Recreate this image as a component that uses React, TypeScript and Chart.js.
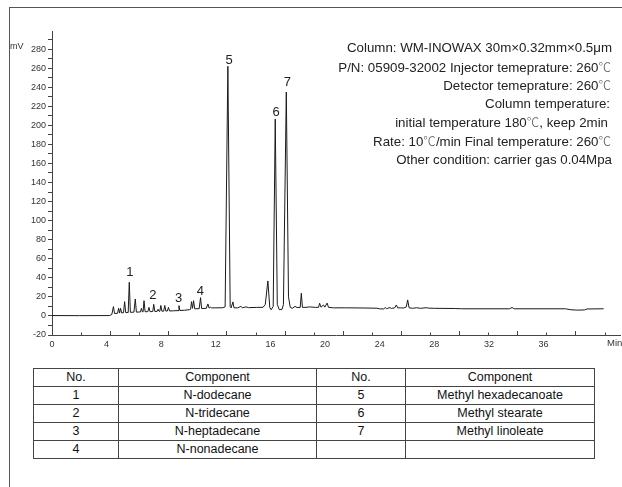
import React, { useEffect, useRef } from 'react';
import { Chart, registerables } from 'chart.js';

Chart.register(...registerables);

// Retention time (min) and detector signal (mV)
const TIME_MIN = [
  0, 2, 4.2, 4.38, 4.5, 4.58, 4.8, 4.88, 4.95, 5.02, 5.1, 5.24, 5.32, 5.4, 5.58, 5.66, 5.74,
  6.0, 6.1, 6.18, 6.48, 6.55, 6.62, 6.67, 6.74, 6.82, 7.02, 7.1, 7.18, 7.38, 7.45, 7.53,
  7.7, 7.77, 7.84, 7.9, 7.97, 8.05, 8.18, 8.26, 8.34, 8.45, 8.53, 8.61, 8.9, 9.23, 9.3, 9.37,
  9.7, 10.05, 10.15, 10.22, 10.29, 10.37, 10.45, 10.78, 10.88, 10.96, 11.3, 11.42, 11.5,
  11.62, 11.7, 12.0, 12.5, 12.68, 12.88, 13.05, 13.12, 13.25, 13.33, 13.6, 13.83, 13.95,
  14.2, 14.4, 15.0, 15.45, 15.62, 15.81, 15.95, 16.05, 16.2, 16.35, 16.5, 16.65, 16.85,
  16.95, 17.16, 17.32, 17.45, 17.6, 17.8, 17.95, 18.18, 18.26, 18.34, 18.6, 18.85, 19.3,
  19.52, 19.6, 19.7, 19.88, 19.98, 20.15, 20.25, 20.6, 21.5, 23.0, 23.8, 24.0, 24.3, 24.4,
  24.5, 24.75, 24.85, 25.1, 25.22, 25.32, 25.5, 25.75, 25.95, 26.05, 26.15, 26.4, 26.7,
  27.0, 27.4, 27.6, 28.0, 29.5, 30.0, 33.5, 33.7, 33.85, 37.6, 38.0, 38.5, 39.0, 39.2, 40.4,
];
const SIGNAL_MV = [
  0.4, 0.3, 0.4, 1.5, 9.8, 2.5, 2.8, 8, 3, 8, 3.2, 3.4, 15, 3.5, 3.6, 35.3, 3.8,
  4, 17.8, 4, 4.2, 8, 4.3, 4.3, 16, 4.4, 4.5, 9, 4.5, 4.6, 12.2, 4.7,
  4.8, 7, 4.9, 5, 11, 5, 5, 11, 5.1, 5.2, 9, 5.2, 5.4, 5.6, 10.8, 5.7,
  6, 6.5, 7, 15, 8, 16, 7.5, 7.6, 19.2, 7.8, 8, 12.6, 8.3,
  9.2, 8.4, 8.5, 8.6, 9.5, 262, 10, 8.5, 14.7, 8.5, 8.5, 10, 8.6,
  9.5, 8.7, 9, 9, 12, 36.7, 9, 6.5, 10, 206.5, 12, 6.5, 7,
  12, 235, 20, 9, 8, 10, 8.8, 9, 23.8, 9, 9, 9.5, 9,
  9, 13.3, 9.2, 11.5, 9.2, 13.5, 9, 8.5, 8.5, 8.3, 8.1, 7.4, 7.4, 8.8,
  7.6, 8.8, 7.9, 8.5, 11.5, 8.5, 8.5, 8.3, 9.5, 16.8, 8.6, 8, 8.6,
  8, 8.6, 8.2, 8, 7.8, 7.5, 7.5, 8.8, 7.5, 7.5, 6.5, 6.1, 6.3, 7.3, 7.5,
];

const X_TICKS = [0, 4, 8, 12, 16, 20, 24, 28, 32, 36];
const Y_TICKS = [-20, -10, 0, 10, 20, 30, 40, 50, 60, 70, 80, 90, 100, 110, 120, 130, 140, 150,
  160, 170, 180, 190, 200, 210, 220, 230, 240, 250, 260, 270, 280, 290];
// Tick marks of the time axis (they do not line up with the labels in the source)
const X_MARKS = [2.13, 4.26, 6.39, 8.52, 10.65, 12.78, 14.91, 17.04, 19.17, 21.3, 23.43,
  25.56, 27.69, 29.82, 31.95, 34.08, 36.21, 38.34, 40.47];

const PEAK_NUMBERS = ['1', '2', '3', '4', '5', '6', '7'];
const PEAK_LABEL_TIME = [5.71, 7.38, 9.28, 10.86, 12.97, 16.41, 17.24];
const PEAK_LABEL_MV = [45.7, 21.9, 18.5, 25.4, 268.5, 214, 244.7];

const CONDITIONS = [
  'Column: WM-INOWAX 30m×0.32mm×0.5μm',
  'P/N: 05909-32002 Injector temeprature: 260℃',
  'Detector temeprature: 260℃',
  'Column temperature:',
  'initial temperature 180℃, keep 2min',
  'Rate: 10℃/min Final temperature: 260℃',
  'Other condition: carrier gas 0.04Mpa',
];

const NO_LEFT = ['1', '2', '3', '4'];
const COMPONENT_LEFT = ['N-dodecane', 'N-tridecane', 'N-heptadecane', 'N-nonadecane'];
const NO_RIGHT = ['5', '6', '7', ''];
const COMPONENT_RIGHT = ['Methyl hexadecanoate', 'Methyl stearate', 'Methyl linoleate', ''];
const TABLE_HEADERS = ['No.', 'Component', 'No.', 'Component'];

const FONT = '"Liberation Sans", Arial, "Noto Sans CJK SC", sans-serif';
const CJK_FONT = '"Noto Sans CJK SC", "Noto Sans CJK JP", sans-serif';

const overlayPlugin = {
  id: 'overlay',
  afterDraw(chart: any) {
    const { ctx, scales, chartArea } = chart;
    const x = scales.x;
    const y = scales.y;
    const base = chartArea.bottom;
    ctx.save();
    ctx.strokeStyle = '#444';
    ctx.lineWidth = 1;
    X_MARKS.forEach((m, i) => {
      const px = Math.round(x.getPixelForValue(m)) + 0.5;
      const len = i % 2 === 1 ? 4 : 2.5;
      ctx.beginPath();
      ctx.moveTo(px, base + 1);
      ctx.lineTo(px, base - len);
      ctx.stroke();
    });
    ctx.fillStyle = '#222';
    ctx.font = '13px ' + FONT;
    ctx.textAlign = 'center';
    ctx.textBaseline = 'middle';
    PEAK_NUMBERS.forEach((n, i) => {
      ctx.fillText(n, x.getPixelForValue(PEAK_LABEL_TIME[i]), y.getPixelForValue(PEAK_LABEL_MV[i]));
    });
    ctx.restore();
  },
};

function ChromChart() {
  const ref = useRef<HTMLCanvasElement>(null);
  useEffect(() => {
    const chart = new Chart(ref.current as HTMLCanvasElement, {
      type: 'scatter',
      data: {
        datasets: [
          {
            data: TIME_MIN.map((t, i) => ({ x: t, y: SIGNAL_MV[i] })),
            showLine: true,
            borderColor: '#1a1a1a',
            borderWidth: 1,
            pointRadius: 0,
            tension: 0,
          },
        ],
      },
      options: {
        responsive: false,
        animation: false,
        devicePixelRatio: 1,
        layout: { padding: { left: 0, top: 31, right: 2, bottom: 0 } },
        plugins: { legend: { display: false }, tooltip: { enabled: false } },
        scales: {
          x: {
            type: 'linear',
            min: 0,
            max: 41.6,
            afterBuildTicks: (s: any) => {
              s.ticks = X_TICKS.map((v) => ({ value: v }));
            },
            afterFit: (s: any) => {
              s.height = 20;
            },
            grid: { display: false, drawTicks: false },
            border: { display: true, color: '#444', width: 1 },
            ticks: {
              autoSkip: false,
              maxRotation: 0,
              padding: 4,
              color: '#333',
              font: { family: FONT, size: 9 },
              callback: (v: any) => String(v),
            },
          },
          y: {
            type: 'linear',
            min: -20,
            max: 299,
            afterBuildTicks: (s: any) => {
              s.ticks = Y_TICKS.map((v) => ({ value: v }));
            },
            afterFit: (s: any) => {
              s.width = 52;
            },
            grid: { display: true, drawOnChartArea: false, drawTicks: true, tickLength: 4, color: '#444' },
            border: { display: true, color: '#444', width: 1 },
            ticks: {
              autoSkip: false,
              padding: 2,
              color: '#333',
              font: { family: FONT, size: 9 },
              callback: (v: any) => (Number(v) % 20 === 0 ? String(v) : ''),
            },
          },
        },
      },
      plugins: [overlayPlugin],
    } as any);
    return () => chart.destroy();
  }, []);
  return (
    <canvas
      ref={ref}
      width={622}
      height={355}
      style={{ position: 'absolute', left: 0, top: 0, width: 622, height: 355 }}
    />
  );
}

const CENTERS = [47.5, 66.5, 85, 103.5, 122, 141, 159.5];
const RIGHTS = [10, 11, 11, 12, 14, 11, 10];

function renderCondition(t: string) {
  const parts = t.split('℃');
  const out: React.ReactNode[] = [];
  parts.forEach((p, i) => {
    out.push(<span key={'t' + i}>{p}</span>);
    if (i < parts.length - 1) {
      out.push(
        <span key={'c' + i} style={{ fontFamily: CJK_FONT, fontSize: 12.5, color: '#555', fontWeight: 300 }}>
          ℃
        </span>
      );
    }
  });
  return out;
}

export default function App() {
  const cell: React.CSSProperties = {
    border: '1px solid #444',
    height: 17,
    padding: 0,
    textAlign: 'center',
    verticalAlign: 'middle',
    fontFamily: FONT,
    fontSize: 12.5,
    color: '#111',
    lineHeight: '17px',
  };
  const widths = [85, 198, 89, 189];
  return (
    <div style={{ position: 'fixed', left: 0, top: 0, width: 622, height: 487, background: '#fff', overflow: 'hidden' }}>
      <div style={{ position: 'absolute', left: 9, top: 7, width: 700, height: 600, borderTop: '1px solid #555', borderLeft: '1px solid #555' }} />
      <ChromChart />
      <div style={{ position: 'absolute', left: 10, top: 40, fontFamily: FONT, fontSize: 9, color: '#333', lineHeight: '12px' }}>mV</div>
      <div style={{ position: 'absolute', left: 607, top: 337, fontFamily: FONT, fontSize: 9.5, color: '#333', lineHeight: '12px', whiteSpace: 'nowrap' }}>Min</div>
      {CONDITIONS.map((t, i) => (
        <div
          key={i}
          style={{
            position: 'absolute',
            right: RIGHTS[i],
            top: CENTERS[i] - 8,
            lineHeight: '16px',
            height: 16,
            fontFamily: FONT,
            fontSize: 13.3,
            color: '#222',
            whiteSpace: 'nowrap',
            textAlign: 'right',
          }}
        >
          {renderCondition(t)}
        </div>
      ))}
      <table style={{ position: 'absolute', left: 33, top: 368, borderCollapse: 'collapse', tableLayout: 'fixed', width: 561 }}>
        <colgroup>
          {widths.map((w, i) => (
            <col key={i} style={{ width: w }} />
          ))}
        </colgroup>
        <tbody>
          <tr>
            {TABLE_HEADERS.map((h, i) => (
              <td key={i} style={cell}>{h}</td>
            ))}
          </tr>
          {NO_LEFT.map((n, i) => (
            <tr key={i}>
              <td style={cell}>{n}</td>
              <td style={cell}>{COMPONENT_LEFT[i]}</td>
              <td style={cell}>{NO_RIGHT[i]}</td>
              <td style={cell}>{COMPONENT_RIGHT[i]}</td>
            </tr>
          ))}
        </tbody>
      </table>
    </div>
  );
}
